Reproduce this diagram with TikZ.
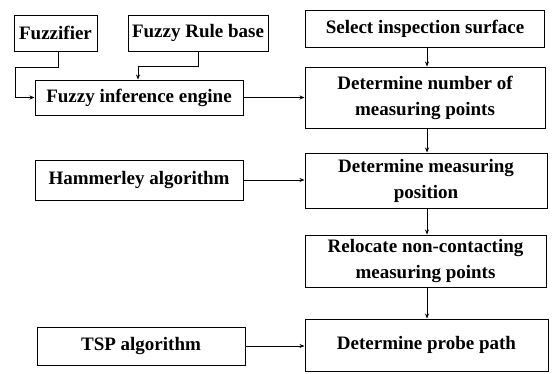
\documentclass[tikz,border=0pt]{standalone}
\usepackage{fontspec}
\setmainfont{Liberation Serif}
\usetikzlibrary{arrows.meta}
\begin{document}
\begin{tikzpicture}[x=1pt,y=-1pt,
  box/.style={draw,line width=1pt,inner sep=0pt,align=center,
    font=\fontsize{19}{26}\selectfont\bfseries},
  arr/.style={line width=0.9pt,-{Stealth[length=5pt,width=4pt]}}]
\useasboundingbox (0,0) rectangle (553,373);
\node[box,minimum width=83pt,minimum height=36pt] (fuzz) at (55.5,33) {Fuzzifier};
\node[box,minimum width=140pt,minimum height=36pt] (rule) at (198,33) {Fuzzy Rule base};
\node[box,minimum width=208pt,minimum height=35pt] (inf) at (139,97.5) {Fuzzy inference engine};
\node[box,minimum width=208pt,minimum height=40pt] (ham) at (139,180) {Hammerley algorithm};
\node[box,minimum width=208pt,minimum height=38pt] (tsp) at (141,346) {TSP algorithm};
\node[box,minimum width=239pt,minimum height=37pt] (sel) at (425,28.5) {Select inspection surface};
\node[box,minimum width=240pt,minimum height=61pt] (num) at (425,97.5) {Determine number of\\measuring points};
\node[box,minimum width=242pt,minimum height=55pt] (pos) at (426,180.5) {Determine measuring\\position};
\node[box,minimum width=241pt,minimum height=52pt] (rel) at (425.5,261) {Relocate non-contacting\\measuring points};
\node[box,minimum width=243pt,minimum height=52pt] (probe) at (426.5,345) {Determine probe path};
\coordinate (f1) at (15,67);
\coordinate (r1) at (138,66);
\draw[arr] ([xshift=2.5pt]fuzz.south) |- (f1) |- (inf.west);
\draw[arr] (rule.south) |- (r1) -- (r1 |- inf.north);
\draw[arr] (inf.east) -- (num.west);
\draw[arr] (ham.east) -- (ham.east -| pos.west);
\draw[arr] (tsp.east) -- (tsp.east -| probe.west);
\draw[arr] ([xshift=2pt]sel.south) -- ([xshift=2pt]sel.south |- num.north);
\draw[arr] ([xshift=2pt]num.south) -- ([xshift=2pt]num.south |- pos.north);
\draw[arr] ([xshift=1pt]pos.south) -- ([xshift=1pt]pos.south |- rel.north);
\draw[arr] ([xshift=1.5pt]rel.south) -- ([xshift=1.5pt]rel.south |- probe.north);
\end{tikzpicture}
\end{document}
